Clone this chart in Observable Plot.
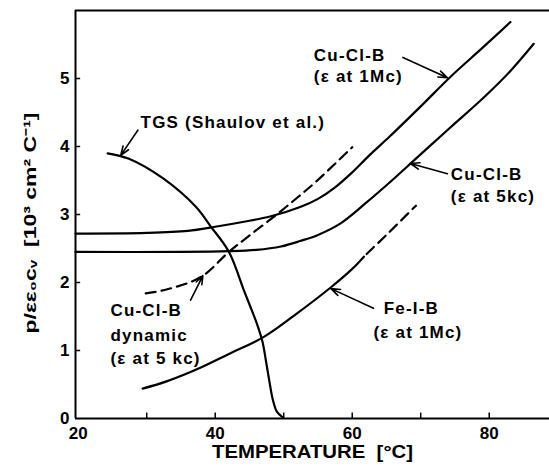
<!DOCTYPE html>
<html>
<head>
<meta charset="utf-8">
<script src="https://cdn.jsdelivr.net/npm/d3@7"></script>
<script src="https://cdn.jsdelivr.net/npm/@observablehq/plot@0.6"></script>
<style>
  html, body { margin: 0; padding: 0; background: #fff; }
</style>
</head>
<body>
<div id="chart"></div>
<script>
// ---- data ----
const xTickLabels = [20, 40, 60, 80];
const xTickMarks = [30, 40, 50, 60, 70, 80];
const yTickLabels = [0, 1, 2, 3, 4, 5];
const yTickMarks = [1, 2, 3, 4, 5];

const tgs = [
  [24.3, 3.9], [27.4, 3.82], [32.4, 3.53], [37.2, 3.11], [39.3, 2.83],
  [42.0, 2.45], [44.2, 1.88], [45.3, 1.6], [46.2, 1.36], [46.9, 1.13],
  [47.4, 0.85], [47.9, 0.55], [48.4, 0.28], [49.0, 0.1], [49.8, 0.02]
];
const cuClB1Mc = [
  [19.6, 2.72], [30, 2.73], [36, 2.76], [40, 2.82], [44, 2.89], [48, 2.97],
  [52.4, 3.11], [55, 3.23], [57.5, 3.4], [60, 3.62], [62.5, 3.87], [65.5, 4.15],
  [70, 4.59], [74.4, 5.03], [79, 5.45], [83.1, 5.83]
];
const cuClB5kc = [
  [19.6, 2.45], [35, 2.45], [42, 2.46], [46, 2.48], [49.6, 2.53], [52.4, 2.61],
  [55, 2.7], [58.3, 2.87], [62, 3.17], [65, 3.43], [69.5, 3.84], [74, 4.25],
  [79.2, 4.72], [83, 5.1], [86.5, 5.51]
];
const cuClBDynamic = [
  [29.85, 1.84], [33, 1.9], [37.9, 2.08], [42, 2.45], [45.5, 2.73],
  [49.1, 3.01], [52, 3.25], [54.9, 3.5], [60, 3.99]
];
const feIBSolid = [
  [29.4, 0.44], [33, 0.55], [37.9, 0.75], [42, 0.95], [47.1, 1.2],
  [52, 1.55], [56.9, 1.93], [60, 2.2], [61.7, 2.38]
];
const feIBDashed = [[61.7, 2.38], [65, 2.7], [69.3, 3.13]];

const labels = [
  {x: 29.1, y: 4.35, text: "TGS (Shaulov et al.)"},
  {x: 54.4, y: 5.34, text: "Cu-Cl-B"},
  {x: 54.4, y: 5.03, text: "(ε at 1Mc)"},
  {x: 74.4, y: 3.59, text: "Cu-Cl-B"},
  {x: 74.4, y: 3.26, text: "(ε at 5kc)"},
  {x: 24.7, y: 1.59, text: "Cu-Cl-B"},
  {x: 24.7, y: 1.22, text: "dynamic"},
  {x: 24.7, y: 0.88, text: "(ε at 5 kc)"},
  {x: 64.6, y: 1.62, text: "Fe-I-B"},
  {x: 63.1, y: 1.26, text: "(ε at 1Mc)"}
];
const arrows = [
  {x1: 28.7, y1: 4.24, x2: 26.2, y2: 3.87},
  {x1: 67.4, y1: 5.31, x2: 73.9, y2: 5.01},
  {x1: 73.9, y1: 3.6, x2: 68.5, y2: 3.75},
  {x1: 36.4, y1: 1.74, x2: 38.2, y2: 2.1},
  {x1: 63.1, y1: 1.62, x2: 56.9, y2: 1.91}
];
const xTitle = "TEMPERATURE  [°C]";
const yTitle = "p/εε₀cᵥ  [10³ cm² C⁻¹]";

const xMin = 19.6, xMax = 88.8, yMin = 0, yMax = 6;
const font = "'Liberation Sans', Arial, sans-serif";

const chart = Plot.plot({
  width: 549,
  height: 467,
  marginLeft: 75,
  marginRight: 0,
  marginTop: 10,
  marginBottom: 49,
  style: {fontFamily: font, background: "#fff", color: "#000"},
  x: {domain: [xMin, xMax]},
  y: {domain: [yMin, yMax]},
  marks: [
    Plot.axisX({ticks: xTickLabels, tickSize: 0, tickPadding: 8, label: null,
      fontSize: 17, fontWeight: "bold", tickFormat: d => String(d)}),
    Plot.axisY({ticks: yTickLabels, tickSize: 0, tickPadding: 6, label: null,
      fontSize: 17, fontWeight: "bold", tickFormat: d => String(d)}),
    // frame
    Plot.ruleX([xMin], {stroke: "#000", strokeWidth: 2}),
    Plot.ruleY([yMin], {stroke: "#000", strokeWidth: 2}),
    Plot.ruleY([yMax], {stroke: "#000", strokeWidth: 2}),
    // inward ticks
    Plot.ruleX(xTickMarks, {x: d => d, y1: 0, y2: 0.08, stroke: "#000", strokeWidth: 1.5}),
    Plot.ruleY(yTickMarks, {y: d => d, x1: xMin, x2: xMin + 0.75, stroke: "#000", strokeWidth: 1.5}),
    // curves
    Plot.line(tgs, {x: d => d[0], y: d => d[1], curve: "catmull-rom", stroke: "#000", strokeWidth: 2.2}),
    Plot.line(cuClB1Mc, {x: d => d[0], y: d => d[1], curve: "catmull-rom", stroke: "#000", strokeWidth: 2.2}),
    Plot.line(cuClB5kc, {x: d => d[0], y: d => d[1], curve: "catmull-rom", stroke: "#000", strokeWidth: 2.2}),
    Plot.line(cuClBDynamic, {x: d => d[0], y: d => d[1], curve: "catmull-rom", stroke: "#000", strokeWidth: 2.2, strokeDasharray: "10,6"}),
    Plot.line(feIBSolid, {x: d => d[0], y: d => d[1], curve: "catmull-rom", stroke: "#000", strokeWidth: 2.2}),
    Plot.line(feIBDashed, {x: d => d[0], y: d => d[1], curve: "catmull-rom", stroke: "#000", strokeWidth: 2.2, strokeDasharray: "10,6", strokeDashoffset: -4}),
    // annotations
    Plot.arrow(arrows, {x1: "x1", y1: "y1", x2: "x2", y2: "y2", stroke: "#000", strokeWidth: 1.6, headLength: 9, headAngle: 40}),
    Plot.text(labels, {x: "x", y: "y", text: "text", textAnchor: "start", fontSize: 17, fontWeight: "bold", fill: "#000"}),
    // axis titles
    Plot.text([xTitle], {frameAnchor: "bottom", dy: 39, dx: 0, fontSize: 18, fontWeight: "bold", fill: "#000"}),
    Plot.text([yTitle], {frameAnchor: "left", dx: -45, dy: 119, rotate: -90, textAnchor: "start", fontSize: 17, fontWeight: "bold", fill: "#000"})
  ]
});
const labelTexts = new Set(labels.map(d => d.text));
d3.select(chart).selectAll("text").each(function() {
  const t = this.textContent;
  if (labelTexts.has(t)) this.setAttribute("letter-spacing", "1.2");
  if (t === xTitle) { this.setAttribute("textLength", "201"); this.setAttribute("lengthAdjust", "spacingAndGlyphs"); }
  if (t === yTitle) { this.setAttribute("textLength", "221"); this.setAttribute("lengthAdjust", "spacingAndGlyphs"); }
});
document.getElementById("chart").appendChild(chart);
</script>
</body>
</html>
